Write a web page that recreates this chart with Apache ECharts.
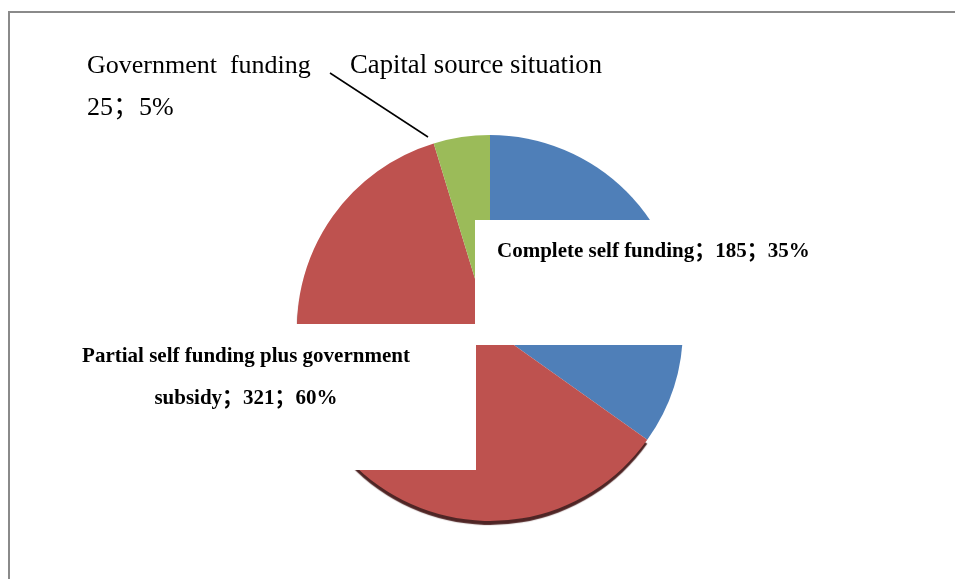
<!DOCTYPE html>
<html>
<head>
<meta charset="utf-8">
<script src="https://cdn.jsdelivr.net/npm/echarts@6/dist/echarts.min.js"></script>
<style>
  html, body { margin: 0; padding: 0; background: #fff; }
  #wrap { position: relative; width: 955px; height: 579px; overflow: hidden; }
  #frame { position: absolute; left: 8px; top: 11px; width: 2000px; height: 2000px; border: 2px solid #8a8a8a; box-sizing: border-box; }
  #chart { position: absolute; left: 0; top: 0; width: 955px; height: 579px; }
</style>
</head>
<body>
<div id="wrap">
  <div id="frame"></div>
  <div id="chart"></div>
</div>
<script>
const chartTitle = 'Capital source situation';
const categories = ['Complete self funding', 'Partial self funding plus government subsidy', 'Government funding'];
const values = [185, 321, 25];
const colors = ['#4F7FB8', '#BE524F', '#9BBB59'];

const chart = echarts.init(document.getElementById('chart'), null, { renderer: 'canvas' });

const serif = '"Liberation Serif", "Times New Roman", "Noto Sans CJK SC", serif';

const labelFormats = [
  p => p.name + '；' + p.value + '；' + p.percent + '%',
  p => p.name.replace('government ', 'government\n') + '；' + p.value + '；' + p.percent + '%',
  p => p.name.replace(' ', '  ') + '\n' + p.value + '；' + p.percent + '%'
];

const labelStyles = [
  { fontWeight: 'bold', fontSize: 21, lineHeight: 42, backgroundColor: '#fff', width: 338, padding: [11, 0, 72, 22], align: 'left' },
  { fontWeight: 'bold', fontSize: 21, lineHeight: 42, backgroundColor: '#fff', width: 420, padding: [12, 20, 50, 20], align: 'center' },
  { fontWeight: 'normal', fontSize: 26, lineHeight: 42, align: 'left' }
];

const data = categories.map((name, i) => ({
  name: name,
  value: values[i],
  itemStyle: i === 1
    ? { color: colors[i], shadowColor: 'rgba(70,25,25,0.95)', shadowOffsetY: 4, shadowBlur: 1 }
    : { color: colors[i] },
  label: Object.assign({
    show: true,
    color: '#000',
    fontFamily: serif,
    formatter: labelFormats[i]
  }, labelStyles[i]),
  labelLine: { show: i === 2, lineStyle: { color: '#000', width: 1.5 } }
}));

const labelPlaces = [
  { x: 475, y: 220, align: 'left' },
  { x: 246, y: 324, align: 'center' },
  { x: 87, y: 45, align: 'left', labelLinePoints: [[330, 73], [428, 137]] }
];

chart.setOption({
  backgroundColor: 'transparent',
  animation: false,
  title: {
    text: chartTitle,
    left: 350,
    top: 45,
    padding: 0,
    textStyle: { fontFamily: serif, fontWeight: 'normal', fontSize: 26.7, lineHeight: 42, color: '#000' }
  },
  series: [{
    type: 'pie',
    center: [490, 328],
    radius: 193,
    startAngle: 90,
    clockwise: true,
    avoidLabelOverlap: false,
    percentPrecision: 0,
    label: { position: 'outside' },
    labelLayout: function (params) {
      const p = labelPlaces[params.dataIndex];
      const out = { x: p.x, y: p.y, align: p.align, verticalAlign: 'top' };
      if (p.labelLinePoints) out.labelLinePoints = p.labelLinePoints;
      return out;
    },
    data: data
  }]
});
</script>
</body>
</html>
